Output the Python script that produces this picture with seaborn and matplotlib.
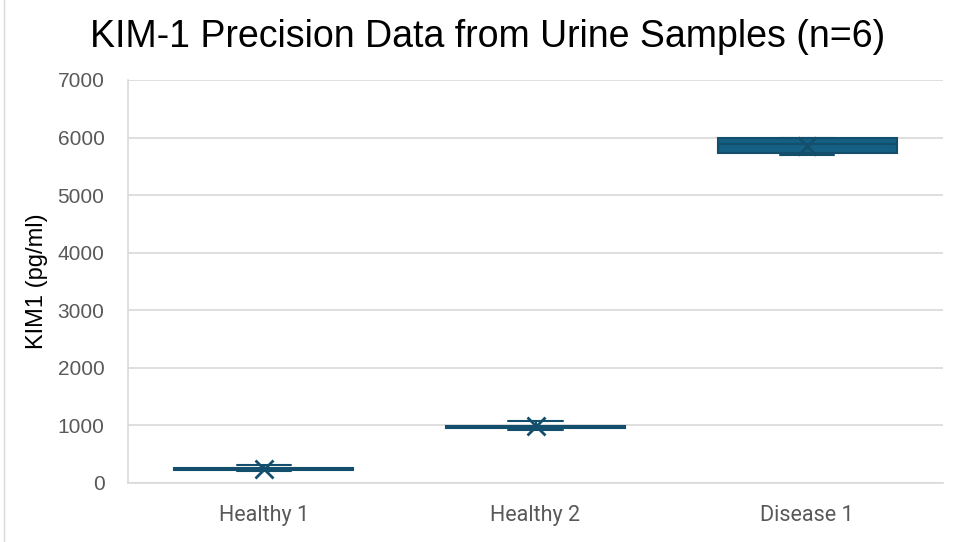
import matplotlib
matplotlib.use("Agg")
import matplotlib.pyplot as plt
import seaborn as sns
import pandas as pd

categories = ["Healthy 1", "Healthy 2", "Disease 1"]
healthy1 = [205, 232, 240, 250, 262, 315]
healthy2 = [920, 955, 970, 985, 1000, 1070]
disease1 = [5700, 5703, 5800, 5980, 5990, 5995]
y_ticks = [0, 1000, 2000, 3000, 4000, 5000, 6000, 7000]

title = "KIM-1 Precision Data from Urine Samples (n=6)"
ylabel = "KIM1 (pg/ml)"

df = pd.DataFrame({
    "group": [categories[0]] * len(healthy1) + [categories[1]] * len(healthy2) + [categories[2]] * len(disease1),
    "value": healthy1 + healthy2 + disease1,
})

sns.set_theme(style="white")
plt.rcParams["font.family"] = ["Liberation Sans", "DejaVu Sans"]

fill = "#156082"
edge = "#134f6c"

fig = plt.figure(figsize=(9.6, 5.42), dpi=100)
ax = fig.add_axes([128 / 960, (542 - 483) / 542, (943 - 128) / 960, (483 - 80) / 542])

sns.boxplot(
    data=df, x="group", y="value", order=categories, ax=ax,
    color=fill, linecolor=edge, linewidth=1.5, width=0.66,
    saturation=1, whis=10, capwidths=0.2,
    showmeans=True,
    meanprops=dict(marker="x", markeredgecolor=edge, markerfacecolor=edge,
                   markersize=13, markeredgewidth=2),
)

ax.set_ylim(0, 7000)
ax.set_xlim(-0.5, 2.5)
ax.set_yticks(y_ticks)
ax.set_yticklabels([str(t) for t in y_ticks])
ax.yaxis.grid(True, color="#d9d9d9", linewidth=1.2)
ax.set_axisbelow(True)
for s in ["top", "right"]:
    ax.spines[s].set_visible(False)
ax.spines["left"].set_color("#d9d9d9")
ax.spines["bottom"].set_color("#d9d9d9")
ax.spines["left"].set_linewidth(1.2)
ax.spines["bottom"].set_linewidth(1.2)
ax.tick_params(axis="y", length=0, pad=17, labelsize=15, labelcolor="#595959")
ax.tick_params(axis="x", length=0, pad=16, labelsize=15.5, labelcolor="#595959")
for lbl in ax.get_xticklabels():
    lbl.set_fontfamily(["Roboto", "DejaVu Sans"])

ax.set_xlabel("")
ax.set_ylabel(ylabel, fontsize=17, color="black", labelpad=7)

fig.text(488 / 960, 1 - 37 / 542, title, ha="center", va="center",
         fontsize=27, color="black")

fig.add_artist(plt.Line2D([4 / 960, 4 / 960], [0, 1], color="#d9d9d9", linewidth=1, transform=fig.transFigure))

fig.savefig("out.png", dpi=100)
